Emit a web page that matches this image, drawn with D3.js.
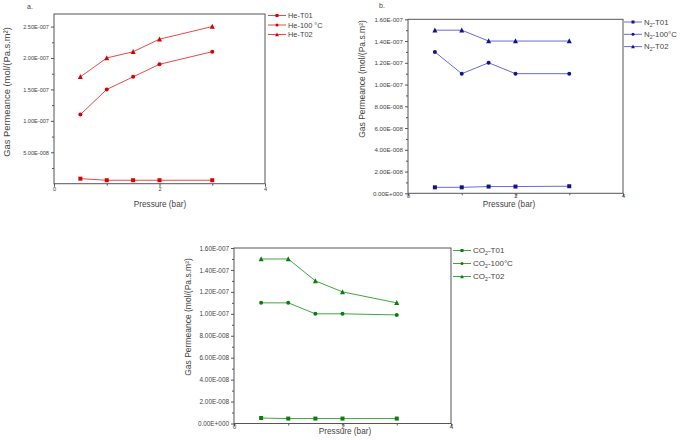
<!DOCTYPE html>
<html><head><meta charset="utf-8">
<script src="https://cdn.jsdelivr.net/npm/d3@7"></script>
<style>body{margin:0;background:#fff}svg{display:block}text{font-family:"Liberation Sans",Arial,sans-serif}</style>
</head><body>
<svg id="c" width="685" height="440"></svg>
<script>
// ---- data ----
const pressure = [0.5, 1, 1.5, 2, 3];
const xTicks = [0, 2, 4];
const heT01 = [8e-9, 5.5e-9, 5.5e-9, 5.5e-9, 5.5e-9];
const he100 = [1.1e-7, 1.5e-7, 1.7e-7, 1.9e-7, 2.1e-7];
const heT02 = [1.7e-7, 2.0e-7, 2.1e-7, 2.3e-7, 2.5e-7];
const heYTicks = [5e-8, 1e-7, 1.5e-7, 2e-7, 2.5e-7];
const n2T01 = [5.5e-9, 5.5e-9, 6.2e-9, 6.2e-9, 6.5e-9];
const n2100 = [1.3e-7, 1.1e-7, 1.2e-7, 1.1e-7, 1.1e-7];
const n2T02 = [1.5e-7, 1.5e-7, 1.4e-7, 1.4e-7, 1.4e-7];
const co2T01 = [5e-9, 4.5e-9, 4.5e-9, 4.5e-9, 4.5e-9];
const co2100 = [1.1e-7, 1.1e-7, 1.0e-7, 1.0e-7, 0.99e-7];
const co2T02 = [1.5e-7, 1.5e-7, 1.3e-7, 1.2e-7, 1.1e-7];
const yTicks016 = [0, 2e-8, 4e-8, 6e-8, 8e-8, 1e-7, 1.2e-7, 1.4e-7, 1.6e-7];
const heNames = [["He-T01"], ["He-100 °C"], ["He-T02"]];
const n2Names = [["N", "2", "-T01"], ["N", "2", "-100°C"], ["N", "2", "-T02"]];
const co2Names = [["CO", "2", "-T01"], ["CO", "2", "-100°C"], ["CO", "2", "-T02"]];
const markers = ["square", "circle", "triangle"];

const svg = d3.select("#c");

function fmt(v) {
  if (v === 0) return "0.00E+000";
  const s = v.toExponential(2).split("e");
  const e = parseInt(s[1], 10);
  return s[0] + "E" + (e < 0 ? "-" : "+") + String(Math.abs(e)).padStart(3, "0");
}

function panel(o) {
  const g = svg.append("g");
  const x = d3.scaleLinear().domain([0, 4]).range([o.l, o.r]);
  const y = d3.scaleLinear().domain([0, o.ymax]).range([o.b, o.t]);
  const axc = "#555";
  // frame
  g.append("rect").attr("x", o.l).attr("y", o.t).attr("width", o.r - o.l).attr("height", o.b - o.t)
    .attr("fill", "none").attr("stroke", axc).attr("stroke-width", 1);
  // x axis
  const xa = g.append("g").attr("transform", `translate(0,${o.b})`)
    .call(d3.axisBottom(x).tickValues(xTicks).tickSize(3).tickFormat(d3.format("d")));
  xa.select(".domain").remove();
  xa.selectAll("line").attr("stroke", axc);
  xa.selectAll("text").attr("font-size", o.tf).attr("fill", "#444").attr("dy", null).attr("y", o.xtY);
  g.append("g").attr("transform", `translate(0,${o.b})`)
    .call(d3.axisBottom(x).tickValues([1, 3]).tickSize(2).tickFormat(""))
    .call(s => { s.select(".domain").remove(); s.selectAll("line").attr("stroke", axc); });
  // y axis
  const ya = g.append("g").attr("transform", `translate(${o.l},0)`)
    .call(d3.axisLeft(y).tickValues(o.yt).tickSize(3).tickPadding(2).tickFormat(fmt));
  ya.select(".domain").remove();
  ya.selectAll("line").attr("stroke", axc);
  ya.selectAll("text").attr("font-size", o.tf).attr("fill", "#444");
  const minor = [];
  for (let i = 0; i < o.yt.length; i++) {
    const a = o.yt[i], bnext = i + 1 < o.yt.length ? o.yt[i + 1] : null;
    if (bnext !== null) minor.push((a + bnext) / 2);
  }
  minor.unshift(o.yt[0] - (o.yt[1] - o.yt[0]) / 2);
  g.append("g").attr("transform", `translate(${o.l},0)`)
    .call(d3.axisLeft(y).tickValues(minor.filter(v => v > 0 && v < o.ymax)).tickSize(2).tickFormat(""))
    .call(s => { s.select(".domain").remove(); s.selectAll("line").attr("stroke", axc); });
  // labels
  g.append("text").attr("x", o.xl[0]).attr("y", o.xl[1]).attr("text-anchor", "middle")
    .attr("font-size", 8.2).attr("fill", "#444").text("Pressure (bar)");
  g.append("text").attr("transform", `translate(${o.yl[0]},${o.yl[1]}) rotate(-90)`)
    .attr("text-anchor", "middle").attr("font-size", o.ylf).attr("fill", "#444")
    .text("Gas Permeance (mol/(Pa.s.m²)");
  if (o.tag) g.append("text").attr("x", o.tag[0]).attr("y", o.tag[1]).attr("font-size", 7)
    .attr("fill", "#444").text(o.tag[2]);
  // series
  const line = d3.line().x((d, i) => x(pressure[i])).y(d => y(d));
  o.series.forEach((s, k) => {
    g.append("path").datum(s).attr("d", line).attr("fill", "none")
      .attr("stroke", o.lc).attr("stroke-width", 1);
    drawMarkers(g, s.map((d, i) => [x(pressure[i]), y(d)]), markers[k], o.mc);
  });
  // legend
  o.names.forEach((nm, k) => {
    const yy = o.leg[1] + k * o.leg[2];
    const x0 = o.leg[0];
    g.append("line").attr("x1", x0).attr("x2", x0 + 18).attr("y1", yy).attr("y2", yy)
      .attr("stroke", o.lc).attr("stroke-width", 1);
    drawMarkers(g, [[x0 + 9, yy]], markers[k], o.mc, 0.75);
    const t = g.append("text").attr("x", x0 + 20).attr("y", yy + o.lf * 0.35)
      .attr("font-size", o.lf).attr("fill", "#444");
    if (nm.length === 1) t.text(nm[0]);
    else {
      t.append("tspan").text(nm[0]);
      t.append("tspan").attr("font-size", o.lf * 0.65).attr("dy", 2).text(nm[1]);
      t.append("tspan").attr("dy", -2).text(nm[2]);
    }
  });
}

function drawMarkers(g, pts, type, col, sc = 1) {
  pts.forEach(([px, py]) => {
    if (type === "square") {
      const s = 4 * sc;
      g.append("rect").attr("x", px - s / 2).attr("y", py - s / 2).attr("width", s).attr("height", s).attr("fill", col);
    } else if (type === "circle") {
      g.append("circle").attr("cx", px).attr("cy", py).attr("r", 2 * sc).attr("fill", col);
    } else {
      const h = 5 * sc;
      g.append("path").attr("d", `M${px},${py - h * 0.55}L${px + h / 2},${py + h * 0.45}L${px - h / 2},${py + h * 0.45}Z`).attr("fill", col);
    }
  });
}

panel({ l: 54, r: 265, t: 14, b: 183.7, ymax: 2.7e-7, yt: heYTicks, tf: 5.6, xtY: 7,
  xl: [160, 207], yl: [10, 92], ylf: 9.4, tag: [27, 9, "a."],
  series: [heT01, he100, heT02], names: heNames, lc: "#e84a4a", mc: "#d80000",
  leg: [268, 15.5, 9.5], lf: 7.4 });
panel({ l: 408, r: 623, t: 19.3, b: 193.3, ymax: 1.6e-7, yt: yTicks016, tf: 6.2, xtY: 5,
  xl: [509, 206.5], yl: [365, 79], ylf: 8.5, tag: [379, 8, "b."],
  series: [n2T01, n2100, n2T02], names: n2Names, lc: "#6a6ad8", mc: "#12128a",
  leg: [624, 22, 12.3], lf: 7.8 });
panel({ l: 234, r: 451, t: 248, b: 423.5, ymax: 1.6e-7, yt: yTicks016, tf: 6.4, xtY: 5,
  xl: [345, 433.5], yl: [191, 317], ylf: 8.5, tag: null,
  series: [co2T01, co2100, co2T02], names: co2Names, lc: "#3ea83e", mc: "#0f7a0f",
  leg: [453, 250.5, 13], lf: 8 });
</script>
</body></html>
